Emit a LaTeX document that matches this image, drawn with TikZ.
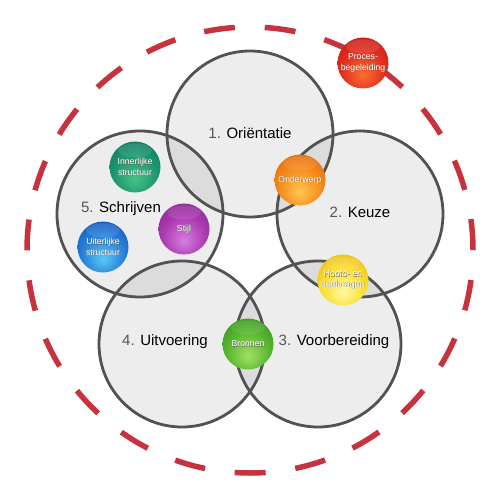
\documentclass[tikz,border=0pt]{standalone}
\usepackage{fontspec}
\setmainfont{Liberation Sans}
\usetikzlibrary{shapes.geometric}

% glossy sphere shading; the three colours are read when the shading is used
\pgfdeclareradialshading[ballhi,ballmd,balllo]{glossy}{\pgfpoint{0bp}{-12bp}}{%
  color(0bp)=(ballhi); color(22bp)=(ballmd); color(46bp)=(balllo); color(75bp)=(balllo)}

\colorlet{ballhi}{white}\colorlet{ballmd}{gray}\colorlet{balllo}{black}
\definecolor{rimgray}{RGB}{82,82,82}
\definecolor{dashred}{RGB}{200,50,62}
\definecolor{numgray}{RGB}{85,85,85}

% sphere palettes: light centre, body, dark edge
\definecolor{redhi}{RGB}{250,110,50}   \definecolor{redmd}{RGB}{225,45,30}   \definecolor{redlo}{RGB}{170,20,20}
\definecolor{orahi}{RGB}{255,200,80}   \definecolor{oramd}{RGB}{245,135,25}  \definecolor{oralo}{RGB}{205,85,10}
\definecolor{teahi}{RGB}{70,195,135}   \definecolor{teamd}{RGB}{25,150,110}  \definecolor{tealo}{RGB}{15,95,85}
\definecolor{bluhi}{RGB}{90,200,245}   \definecolor{blumd}{RGB}{35,125,215}  \definecolor{blulo}{RGB}{20,55,160}
\definecolor{purhi}{RGB}{215,125,225}  \definecolor{purmd}{RGB}{170,55,175}  \definecolor{purlo}{RGB}{110,30,125}
\definecolor{yelhi}{RGB}{255,250,160}  \definecolor{yelmd}{RGB}{250,220,45}  \definecolor{yello}{RGB}{215,160,20}
\definecolor{grnhi}{RGB}{160,225,100}  \definecolor{grnmd}{RGB}{85,180,45}   \definecolor{grnlo}{RGB}{35,120,30}

% white ball text with a soft dark offset behind it
\newcommand\bt[1]{\leavevmode\rlap{\kern0.5pt\raisebox{-0.5pt}{\textcolor{black!60}{#1}}}#1}

\tikzset{
  phasefill/.style={circle, minimum size=168pt, inner sep=0pt, fill=black, fill opacity=0.07},
  rim/.style={draw=rimgray, line width=2.8pt},
  bigdash/.style={draw=dashred, line width=5.5pt, dash pattern=on 31pt off 29.92pt},
  phaselabel/.style={font=\fontsize{15}{18}\selectfont, text=black, inner sep=0pt},
  balltint/.code n args={3}{\colorlet{ballhi}{#1}\colorlet{ballmd}{#2}\colorlet{balllo}{#3}},
  ball/.style={circle, minimum size=51pt, inner sep=0pt, shading=glossy,
    text=white, align=center, font=\fontsize{8.7}{10.4}\selectfont,
    path picture={\fill[white, opacity=0.1]
      ([yshift=-9pt]path picture bounding box.north) ellipse[x radius=17pt, y radius=7pt];}},
}

\begin{document}
\begin{tikzpicture}[x=1pt, y=-1pt]
  \useasboundingbox[fill=white] (0,0) rectangle (500,500);

  % outer dashed ring
  \coordinate (mid) at (250,250);
  \draw[bigdash] (mid) circle[radius=223pt];

  % five phase circles on a pentagon
  \node[phasefill] (p1) at (250,134) {};
  \node[phasefill] (p2) at (360,214) {};
  \node[phasefill] (p3) at (318,344) {};
  \node[phasefill] (p4) at (182,344) {};
  \node[phasefill] (p5) at (140,214) {};
  \foreach \p in {p1,p2,p3,p4,p5}
    \draw[rim] (\p.center) circle[radius=83pt];

  % phase labels
  \node[phaselabel] (l1) at (250,133) {\textcolor{numgray}{1.} Oriëntatie};
  \node[phaselabel] (l2) at (360,212) {\textcolor{numgray}{2.} Keuze};
  \node[phaselabel] (l3) at (334,342) {\textcolor{numgray}{3.} Voorbereiding};
  \node[phaselabel] (l4) at (165,342) {\textcolor{numgray}{4.} Uitvoering};
  \node[phaselabel] (l5) at (121,209) {\textcolor{numgray}{5.} Schrijven};

  % coloured spheres
  \node[ball, balltint={redhi}{redmd}{redlo}] (proces) at (363,63) {\bt{Proces-}\\\bt{begeleiding}};
  \node[ball, balltint={orahi}{oramd}{oralo}] (onderwerp) at (300,180) {\bt{Onderwerp}};
  \node[ball, balltint={teahi}{teamd}{tealo}] (inner) at (135,167) {\bt{Innerlijke}\\\bt{structuur}};
  \node[ball, balltint={bluhi}{blumd}{blulo}] (uiter) at (103,247) {\bt{Uiterlijke}\\\bt{structuur}};
  \node[ball, balltint={purhi}{purmd}{purlo}] (stijl) at (184,229) {\bt{Stijl}};
  \node[ball, balltint={yelhi}{yelmd}{yello}] (vragen) at (343,280) {\bt{Hoofd- en}\\\bt{deelvragen}};
  \node[ball, balltint={grnhi}{grnmd}{grnlo}] (bronnen) at (248,344) {\bt{Bronnen}};
\end{tikzpicture}
\end{document}
